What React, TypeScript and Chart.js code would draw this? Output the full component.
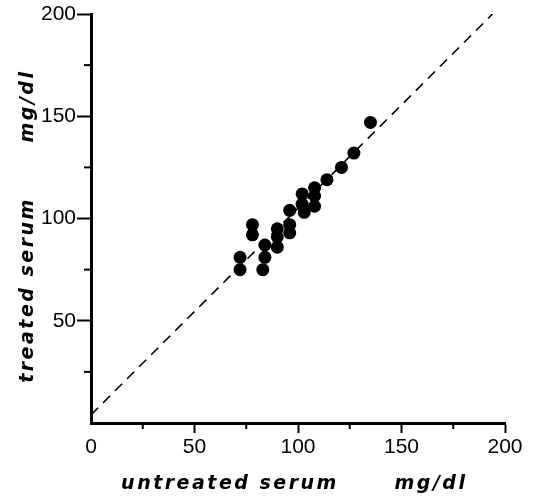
import React, { useEffect, useRef } from "react";
import { Chart, registerables } from "chart.js";

Chart.register(...registerables);

// Data
const untreated = [135, 127, 121, 114, 108, 108, 108, 102, 102, 103, 96, 96, 96, 90, 90, 90, 84, 84, 83, 78, 78, 72, 72];
const treated = [147, 132, 125, 119, 115, 111, 106, 112, 107, 103, 104, 97, 93, 95, 91, 86, 87, 81, 75, 97, 92, 81, 75];
const identityX = [0, 194];
const identityY = [4, 200];
const minorTicks = [25, 75, 125, 175];
const xTitle = "untreated serum";
const xUnit = "mg/dl";
const yTitle = "treated serum";
const yUnit = "mg/dl";

const titleFont = "italic bold 19px 'DejaVu Sans'";

const decorPlugin = {
  id: "decor",
  afterDraw(chart: any) {
    const ctx = chart.ctx as CanvasRenderingContext2D;
    const xs = chart.scales.x;
    const ys = chart.scales.y;
    const area = chart.chartArea;
    ctx.save();
    ctx.strokeStyle = "#000";
    ctx.lineWidth = 2;
    for (const v of minorTicks) {
      const px = xs.getPixelForValue(v);
      ctx.beginPath();
      ctx.moveTo(px, area.bottom);
      ctx.lineTo(px, area.bottom + 6);
      ctx.stroke();
      const py = ys.getPixelForValue(v);
      ctx.beginPath();
      ctx.moveTo(area.left - 7, py);
      ctx.lineTo(area.left, py);
      ctx.stroke();
    }
    ctx.fillStyle = "#000";
    ctx.font = titleFont;
    (ctx as any).letterSpacing = "2.5px";
    ctx.textAlign = "center";
    ctx.textBaseline = "alphabetic";
    ctx.fillText(xTitle, 230, 489);
    ctx.fillText(xUnit, 431, 489);
    ctx.translate(33, 0);
    ctx.rotate(-Math.PI / 2);
    ctx.fillText(yTitle, -290, 0);
    ctx.fillText(yUnit, -106, 0);
    ctx.restore();
  },
};

export default function App() {
  const ref = useRef<HTMLCanvasElement>(null);
  useEffect(() => {
    if (!ref.current) return;
    Chart.defaults.font.family = "'Liberation Sans', Arial, sans-serif";
    Chart.defaults.color = "#000";
    const chart = new Chart(ref.current, {
      type: "scatter",
      data: {
        datasets: [
          {
            type: "line",
            data: identityX.map((x, i) => ({ x, y: identityY[i] })),
            borderColor: "#000",
            borderWidth: 1.6,
            borderDash: [10, 7],
            pointRadius: 0,
            fill: false,
          } as any,
          {
            data: untreated.map((x, i) => ({ x, y: treated[i] })),
            backgroundColor: "#000",
            borderWidth: 0,
            pointRadius: 6.5,
          },
        ],
      },
      plugins: [decorPlugin],
      options: {
        animation: false,
        responsive: false,
        layout: { padding: { left: 0, top: 14, right: 31, bottom: 0 } },
        plugins: { legend: { display: false }, tooltip: { enabled: false } },
        scales: {
          x: {
            type: "linear",
            min: 0,
            max: 200,
            afterFit: (s: any) => {
              s.height = 76;
            },
            border: { display: true, color: "#000", width: 3 },
            grid: {
              drawOnChartArea: false,
              drawTicks: true,
              tickLength: 10,
              tickWidth: 2,
              tickColor: (c: any) =>
                c.tick && c.tick.value % 50 === 0 && c.tick.value !== 0 ? "#000" : "rgba(0,0,0,0)",
            },
            ticks: {
              stepSize: 25,
              autoSkip: false,
              maxRotation: 0,
              padding: 2,
              font: { size: 21 },
              color: "#000",
              callback: (v: any) => (Number(v) % 50 === 0 ? String(v) : ""),
            },
          },
          y: {
            type: "linear",
            min: 0,
            max: 200,
            afterFit: (s: any) => {
              s.width = 91;
            },
            border: { display: true, color: "#000", width: 3 },
            grid: {
              drawOnChartArea: false,
              drawTicks: true,
              tickLength: 14,
              tickWidth: 2,
              tickColor: (c: any) =>
                c.tick && c.tick.value % 50 === 0 && c.tick.value !== 0 ? "#000" : "rgba(0,0,0,0)",
            },
            ticks: {
              stepSize: 25,
              autoSkip: false,
              padding: 1,
              font: { size: 21 },
              color: "#000",
              callback: (v: any) =>
                Number(v) % 50 === 0 && Number(v) !== 0 ? String(v) : "",
            },
          },
        },
      },
    });
    return () => chart.destroy();
  }, []);
  return (
    <div style={{ position: "absolute", left: 0, top: 0, width: 536, height: 499, background: "#fff" }}>
      <canvas ref={ref} width={536} height={499} style={{ display: "block" }} />
    </div>
  );
}
